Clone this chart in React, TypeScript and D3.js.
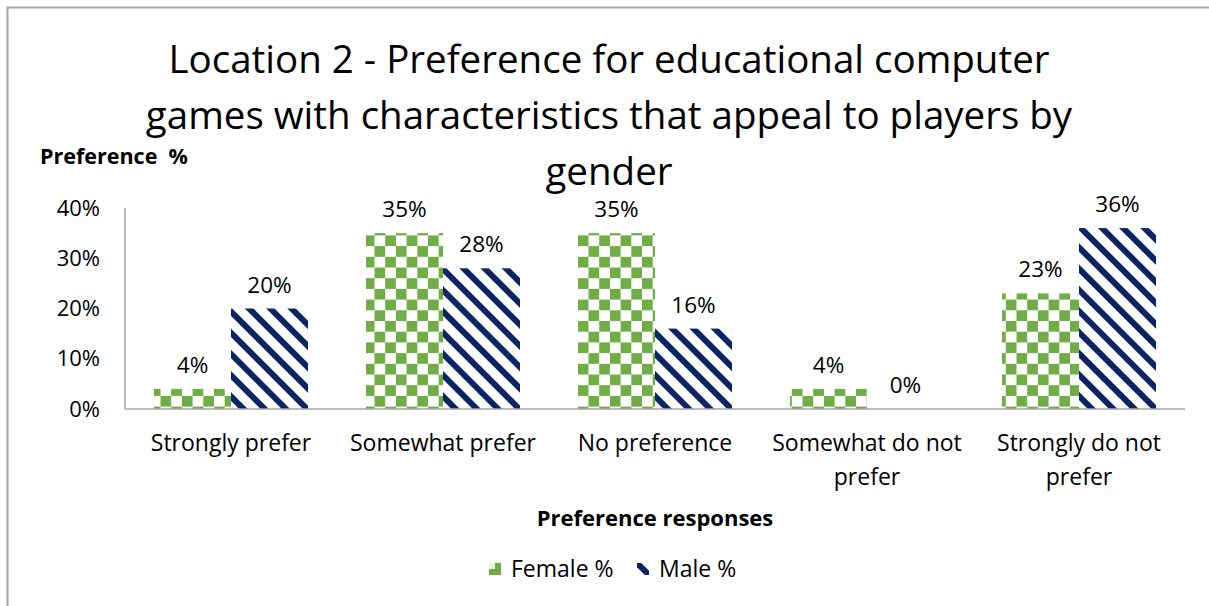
import React from "react";
import * as d3 from "d3";

// Response categories (x axis); multi-line labels split on "\n"
const categories = [
  "Strongly prefer",
  "Somewhat prefer",
  "No preference",
  "Somewhat do not\nprefer",
  "Strongly do not\nprefer",
];
const femaleValues = [4, 35, 35, 4, 23];
const maleValues = [20, 28, 16, 0, 36];
const seriesNames = ["Female %", "Male %"];
const yTicks = [0, 10, 20, 30, 40];
const titleLines = [
  "Location 2 - Preference for educational computer",
  "games with characteristics that appeal to players by",
  "gender",
];

const W = 1209;
const H = 606;
const FONT = "'Open Sans', 'Noto Sans', sans-serif";
const GREEN = "#70AD47";
const NAVY = "#0B2463";

export default function App() {
  const plot = { left: 125, right: 1185, top: 208, bottom: 409 };

  const x0 = d3
    .scaleBand<string>()
    .domain(categories)
    .range([plot.left, plot.right])
    .paddingInner(0.2736)
    .paddingOuter(0.1368);
  const x1 = d3
    .scaleBand<string>()
    .domain(seriesNames)
    .range([0, x0.bandwidth()]);
  const y = d3.scaleLinear().domain([0, 40]).range([plot.bottom, plot.top]);

  const series = [
    { name: seriesNames[0], values: femaleValues, fill: "url(#checker)" },
    { name: seriesNames[1], values: maleValues, fill: "url(#stripes)" },
  ];

  const cell = 10.7;
  const stripeGap = 15;
  const sw = 12; // legend swatch size

  return (
    <svg
      width={W}
      height={H}
      style={{ position: "absolute", left: 0, top: 0, background: "#fff" }}
      fontFamily={FONT}
    >
      <defs>
        <pattern
          id="checker"
          patternUnits="userSpaceOnUse"
          width={cell * 2}
          height={cell * 2}
        >
          <rect width={cell * 2} height={cell * 2} fill="#fff" />
          <rect x={0} y={0} width={cell} height={cell} fill={GREEN} />
          <rect x={cell} y={cell} width={cell} height={cell} fill={GREEN} />
        </pattern>
        <pattern
          id="stripes"
          patternUnits="userSpaceOnUse"
          width={stripeGap}
          height={stripeGap}
          patternTransform="rotate(-45)"
        >
          <rect width={stripeGap} height={stripeGap} fill="#fff" />
          <rect x={0} y={0} width={6} height={stripeGap} fill={NAVY} />
        </pattern>
        <clipPath id="swatchClip">
          <rect width={sw} height={sw} />
        </clipPath>
      </defs>

      {/* chart frame */}
      <rect x={7.5} y={7.5} width={W} height={H} fill="none" stroke="#a6a6a6" strokeWidth={2} />

      {/* title */}
      <text textAnchor="middle" fontSize={38.5} fill="#000">
        {titleLines.map((t, i) => (
          <tspan key={i} x={609} y={73 + i * 56}>
            {t}
          </tspan>
        ))}
      </text>

      {/* y axis title */}
      <text x={40} y={164} fontSize={21.5} fontWeight="bold" fill="#000" style={{ whiteSpace: "pre" }}>
        Preference  %
      </text>

      {/* y tick labels */}
      {yTicks.map((t) => (
        <text
          key={t}
          x={100}
          y={y(t)}
          dy="0.35em"
          textAnchor="end"
          fontSize={22}
          fill="#000"
        >
          {`${t}%`}
        </text>
      ))}

      {/* bars */}
      {series.map((s) =>
        categories.map((c, i) => {
          const v = s.values[i];
          const bx = (x0(c) ?? 0) + (x1(s.name) ?? 0);
          return (
            <rect
              key={s.name + c}
              x={bx}
              y={y(v)}
              width={x1.bandwidth()}
              height={plot.bottom - y(v)}
              fill={s.fill}
            />
          );
        })
      )}

      {/* axes */}
      <line x1={plot.left} x2={plot.left} y1={plot.top} y2={plot.bottom} stroke="#a6a6a6" strokeWidth={1.5} />
      <line x1={plot.left} x2={plot.right} y1={plot.bottom} y2={plot.bottom} stroke="#a6a6a6" strokeWidth={1.5} />

      {/* value labels */}
      {series.map((s) =>
        categories.map((c, i) => {
          const v = s.values[i];
          const cx = (x0(c) ?? 0) + (x1(s.name) ?? 0) + x1.bandwidth() / 2;
          return (
            <text
              key={"l" + s.name + c}
              x={cx}
              y={y(v) - 16}
              textAnchor="middle"
              fontSize={22.5}
              fill="#000"
            >
              {`${v}%`}
            </text>
          );
        })
      )}

      {/* category labels */}
      {categories.map((c) => {
        const cx = (x0(c) ?? 0) + x0.bandwidth() / 2;
        return (
          <text key={"c" + c} textAnchor="middle" fontSize={23} fill="#000">
            {c.split("\n").map((line, j) => (
              <tspan key={j} x={cx} y={451 + j * 34}>
                {line}
              </tspan>
            ))}
          </text>
        );
      })}

      {/* x axis title */}
      <text x={655} y={526} textAnchor="middle" fontSize={22} fontWeight="bold" fill="#000">
        Preference responses
      </text>

      {/* legend */}
      <g transform="translate(489,563)">
        <rect width={sw} height={sw} fill={GREEN} />
        <rect width={sw / 2} height={sw / 2} fill="#fff" opacity={0.85} />
      </g>
      <text x={511} y={569} dy="0.35em" fontSize={23} fill="#000">
        {seriesNames[0]}
      </text>
      <g transform="translate(637,563)" clipPath="url(#swatchClip)">
        <rect width={sw} height={sw} fill="#fff" />
        <line x1={0} y1={0} x2={sw} y2={sw} stroke={NAVY} strokeWidth={6} />
      </g>
      <text x={659} y={569} dy="0.35em" fontSize={23} fill="#000">
        {seriesNames[1]}
      </text>
    </svg>
  );
}
